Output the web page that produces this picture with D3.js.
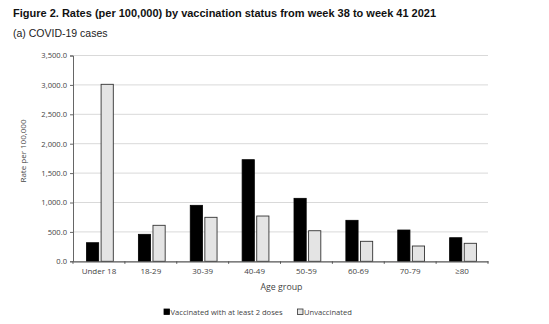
<!DOCTYPE html>
<html>
<head>
<meta charset="utf-8">
<script src="https://cdn.jsdelivr.net/npm/d3@7"></script>
<style>
  html, body { margin: 0; padding: 0; background: #fff; }
  svg { display: block; }
</style>
</head>
<body>
<svg id="chart" width="549" height="324"></svg>
<script>
// Age groups and rates per 100,000, weeks 38–41 2021
const ageGroups = ["Under 18", "18-29", "30-39", "40-49", "50-59", "60-69", "70-79", "\u226580"];
const vaccinated = [316, 459, 952, 1728, 1071, 697, 532, 401];
const unvaccinated = [3010, 612, 748, 770, 520, 340, 260, 306];
const yTicks = [0, 500, 1000, 1500, 2000, 2500, 3000, 3500];
const seriesNames = ["Vaccinated with at least 2 doses", "Unvaccinated"];

const svg = d3.select("#chart");
const plot = { left: 73, right: 488, top: 55.5, bottom: 261.3 };
const axisFont = "'Open Sans', Lato, sans-serif";

const x = d3.scaleBand().domain(ageGroups).range([plot.left, plot.right]).paddingInner(0).paddingOuter(0);
const y = d3.scaleLinear().domain([0, 3500]).range([plot.bottom, plot.top]);

// Title and subtitle
svg.append("text").attr("x", 13).attr("y", 16.5)
  .attr("font-family", "'Liberation Sans', Arial, sans-serif").attr("font-weight", "bold")
  .attr("font-size", 11).attr("fill", "#111")
  .text("Figure 2. Rates (per 100,000) by vaccination status from week 38 to week 41 2021");
svg.append("text").attr("x", 13).attr("y", 37)
  .attr("font-family", "'Liberation Sans', Arial, sans-serif")
  .attr("font-size", 10.5).attr("fill", "#222")
  .text("(a) COVID-19 cases");

// Horizontal gridlines
svg.append("g").selectAll("line").data(yTicks.filter(d => d > 0)).join("line")
  .attr("x1", plot.left).attr("x2", plot.right)
  .attr("y1", d => y(d)).attr("y2", d => y(d))
  .attr("stroke", "#d9d9d9").attr("stroke-width", 1);

// Y axis
const yAxis = svg.append("g").attr("transform", `translate(${plot.left},0)`)
  .call(d3.axisLeft(y).tickValues(yTicks).tickSize(3).tickPadding(3)
    .tickFormat(d => d3.format(",.1f")(d)));
yAxis.select(".domain").attr("stroke", "#666");
yAxis.selectAll(".tick line").attr("stroke", "#666");
yAxis.selectAll("text").attr("font-family", axisFont).attr("font-size", 7.6).attr("fill", "#444");

// Bars
const pairOffset = 13.5, barW = 12.2, gap = 2.4;
const groups = svg.append("g").selectAll("g").data(ageGroups).join("g")
  .attr("transform", d => `translate(${x(d)},0)`);
groups.append("rect")
  .attr("x", pairOffset).attr("width", barW)
  .attr("y", (d, i) => y(vaccinated[i]))
  .attr("height", (d, i) => y(0) - y(vaccinated[i]))
  .attr("fill", "#000").attr("stroke", "#000").attr("stroke-width", 0.8);
groups.append("rect")
  .attr("x", pairOffset + barW + gap).attr("width", barW)
  .attr("y", (d, i) => y(unvaccinated[i]))
  .attr("height", (d, i) => y(0) - y(unvaccinated[i]))
  .attr("fill", "#e4e4e4").attr("stroke", "#333").attr("stroke-width", 0.9);

// X axis
const xAxis = svg.append("g").attr("transform", `translate(0,${plot.bottom})`)
  .call(d3.axisBottom(x).tickSize(0).tickPadding(7));
xAxis.select(".domain").attr("stroke", "#555").attr("stroke-width", 1.2);
xAxis.selectAll("text").attr("font-family", axisFont).attr("font-size", 8).attr("fill", "#444");
// Category boundary tick marks
svg.append("g").selectAll("line").data(d3.range(ageGroups.length + 1)).join("line")
  .attr("x1", i => plot.left + i * x.bandwidth()).attr("x2", i => plot.left + i * x.bandwidth())
  .attr("y1", plot.bottom).attr("y2", plot.bottom + 2.5)
  .attr("stroke", "#555").attr("stroke-width", 1);

// Axis titles
svg.append("text").attr("x", 281.5).attr("y", 290)
  .attr("text-anchor", "middle").attr("font-family", axisFont).attr("font-size", 8.8).attr("fill", "#444")
  .text("Age group");
svg.append("text").attr("transform", "translate(26,151) rotate(-90)")
  .attr("text-anchor", "middle").attr("font-family", axisFont).attr("font-size", 8).attr("fill", "#444")
  .text("Rate per 100,000");

// Legend
const legend = svg.append("g").attr("transform", "translate(164,312)");
const legendItems = [
  { name: seriesNames[0], fill: "#000", stroke: "#000", dx: 0 },
  { name: seriesNames[1], fill: "#e4e4e4", stroke: "#333", dx: 133.5 }
];
const li = legend.selectAll("g").data(legendItems).join("g")
  .attr("transform", d => `translate(${d.dx},0)`);
li.append("rect").attr("x", 0).attr("y", -3).attr("width", 5.5).attr("height", 5.5)
  .attr("fill", d => d.fill).attr("stroke", d => d.stroke).attr("stroke-width", 0.8);
li.append("text").attr("x", 6.5).attr("y", 2.5)
  .attr("font-family", axisFont).attr("font-size", 7.6).attr("fill", "#444")
  .text(d => d.name);
</script>
</body>
</html>
